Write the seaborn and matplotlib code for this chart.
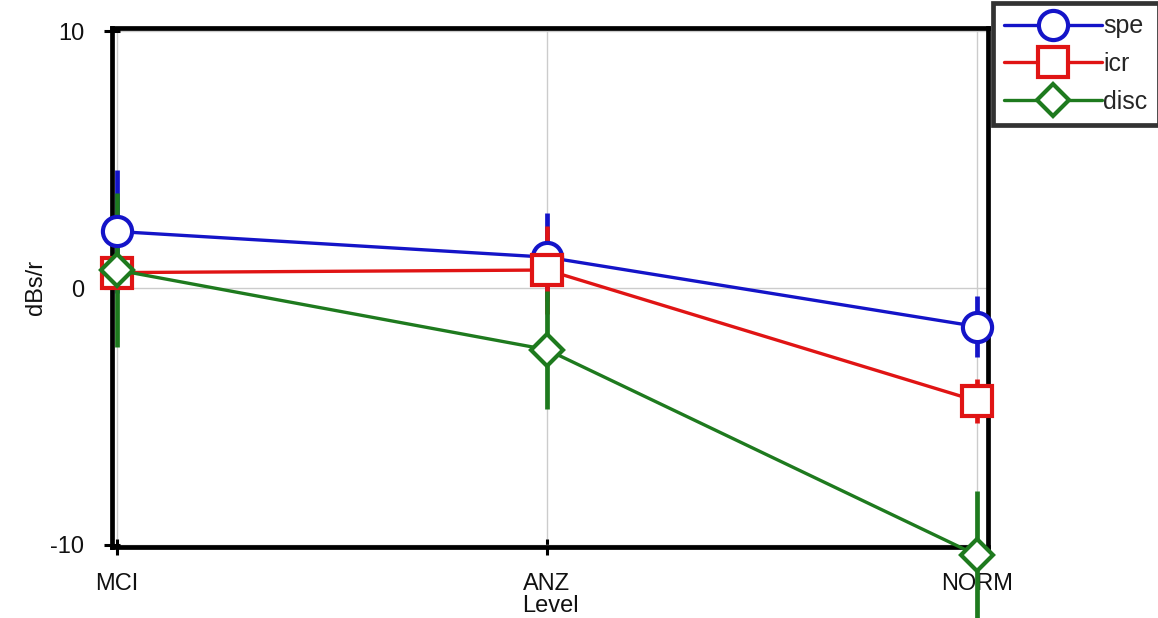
import numpy as np
import pandas as pd
import matplotlib
matplotlib.use("Agg")
import matplotlib.pyplot as plt
import seaborn as sns
from matplotlib.lines import Line2D

# ---- data ----
levels = ["MCI", "ANZ", "NORM"]
series = ["spe", "icr", "disc"]
spe_mean = [2.2, 1.2, -1.5]
spe_err = [2.4, 1.7, 1.2]
icr_mean = [0.6, 0.7, -4.4]
icr_err = [0.5, 1.7, 0.85]
disc_mean = [0.7, -2.4, -10.4]
disc_err = [3.0, 2.3, 2.5]
yticks = [-10, 0, 10]

means = {"spe": spe_mean, "icr": icr_mean, "disc": disc_mean}
errs = {"spe": spe_err, "icr": icr_err, "disc": disc_err}
colors = {"spe": "#1414c8", "icr": "#e01414", "disc": "#1e7a1e"}
markers = {"spe": "o", "icr": "s", "disc": "D"}
msizes = {"spe": 21, "icr": 21, "disc": 16}

rows = []
for s in series:
    for i, lv in enumerate(levels):
        rows.append({"series": s, "pos": i, "level": lv,
                     "value": means[s][i], "err": errs[s][i]})
df = pd.DataFrame(rows)

sns.set_theme(style="white")
plt.rcParams["font.family"] = ["Liberation Sans", "DejaVu Sans"]

fig = plt.figure(figsize=(11.58, 6.18), dpi=100)
ax = fig.add_axes([0.0967, 0.1149, 0.7565, 0.8398])

# error bars first (beneath markers)
for s in series:
    d = df[df.series == s]
    eb = ax.errorbar(d.pos, d.value, yerr=d.err, fmt="none", ecolor=colors[s],
                     elinewidth=3.4, capsize=0, zorder=2)
    for coll in eb.lines[2]:
        coll.set_clip_on(False)

# lines with markers
for k, s in enumerate(series):
    d = df[df.series == s]
    n0 = len(ax.lines)
    sns.lineplot(data=d, x="pos", y="value", color=colors[s], marker=markers[s],
                 markersize=msizes[s], markerfacecolor="white",
                 markeredgecolor=colors[s], markeredgewidth=3.0,
                 linewidth=2.4, ax=ax, zorder=3 + k, legend=False)
    for ln in ax.lines[n0:]:
        ln.set_clip_on(False)
        ln.set_markersize(msizes[s])

ax.set_xlim(-0.0116, 2.0256)
ax.set_ylim(-10.08, 10.12)
ax.set_xticks(range(len(levels)))
ax.set_xticklabels(levels)
ax.set_yticks(yticks)
ax.set_yticklabels([str(t) for t in yticks])
ax.grid(True, color="#cccccc", linewidth=1.0)
ax.set_axisbelow(True)

for sp in ax.spines.values():
    sp.set_visible(True)
    sp.set_color("black")
    sp.set_linewidth(3.4)

ax.tick_params(axis="both", which="major", direction="inout", length=12,
               width=2.2, color="black", labelsize=17, labelcolor="#111111",
               bottom=True, left=True)
ax.tick_params(axis="x", pad=13)
ax.tick_params(axis="y", pad=14)
ax.set_xlabel("Level", fontsize=17, labelpad=0, color="#111111")
ax.set_ylabel("dBs/r", fontsize=17, labelpad=2, color="#111111")

# legend
handles = [Line2D([0], [0], color=colors[s], marker=markers[s],
                  markersize=msizes[s], markerfacecolor="white",
                  markeredgecolor=colors[s], markeredgewidth=3.0, linewidth=2.4)
           for s in series]
leg = fig.legend(handles, series, loc="upper left",
                 bbox_to_anchor=(993 / 1158, 1 - 3 / 618),
                 frameon=True, fancybox=False, fontsize=18, handlelength=3.9,
                 handletextpad=0.05, borderpad=0.45, labelspacing=0.55,
                 borderaxespad=0)
leg.get_frame().set_edgecolor("black")
leg.get_frame().set_linewidth(3.4)
leg.get_frame().set_facecolor("white")

fig.savefig("out.png", dpi=100)
